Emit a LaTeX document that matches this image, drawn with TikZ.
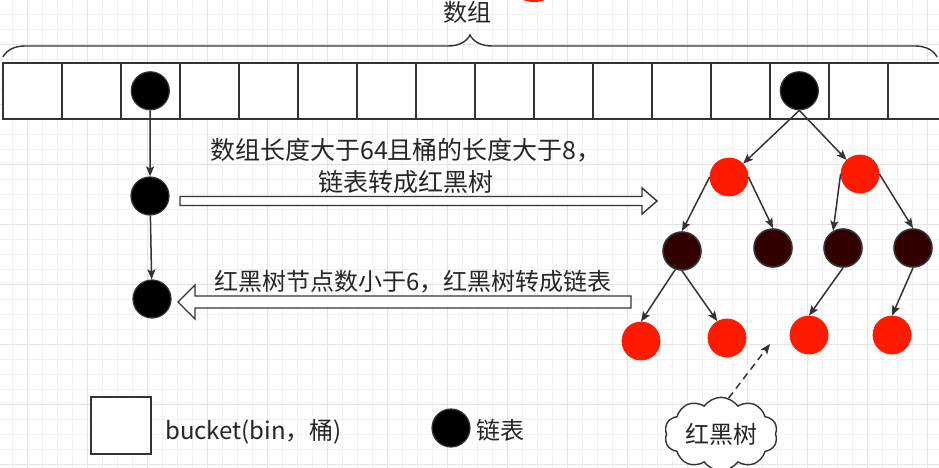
\documentclass[tikz,border=0pt]{standalone}
\usepackage{fontspec}
\setmainfont{Noto Sans CJK SC}
\usepackage{tikz}
\usetikzlibrary{arrows.meta,positioning,decorations.pathreplacing,shapes.symbols}
\definecolor{rbred}{RGB}{255,26,0}
\definecolor{rbdark}{RGB}{51,0,0}
\definecolor{edgegrey}{RGB}{51,51,51}
\definecolor{gridminor}{RGB}{241,241,241}
\definecolor{gridmajor}{RGB}{228,228,228}
\tikzset{
  map-cell/.style={draw=edgegrey, fill=white, line width=1.6pt, minimum width=59pt, minimum height=56pt, inner sep=0pt},
  list-node/.style={circle, draw=edgegrey, fill=black, line width=1.2pt, minimum size=38pt, inner sep=0pt},
  red-node/.style={circle, draw=rbred, fill=rbred, line width=0.8pt, minimum size=38pt, inner sep=0pt},
  black-node/.style={circle, draw=edgegrey, fill=rbdark, line width=1.6pt, minimum size=38pt, inner sep=0pt},
  tree-edge/.style={draw=edgegrey, line width=1.5pt, -{Stealth[length=10pt, width=8pt, inset=2pt]}},
  fat-arrow/.style={draw=edgegrey, fill=white, line width=1.4pt, line join=miter},
  note-text/.style={font=\fontsize{24pt}{32pt}\selectfont, text=black!85, inner sep=0pt, align=center}
}

\begin{document}
\begin{tikzpicture}[x=1pt, y=-1pt]
  \useasboundingbox (0,0) rectangle (939,468);
  \clip (0,0) rectangle (939,468);
  \fill[white] (0,0) rectangle (939,468);
  % background grid
  \foreach \gx in {12,27,...,939} \draw[gridminor, line width=0.8pt] (\gx,0) -- (\gx,468);
  \foreach \gy in {14,29,...,468} \draw[gridminor, line width=0.8pt] (0,\gy) -- (939,\gy);
  \foreach \gx in {27,87,...,939} \draw[gridmajor, line width=0.8pt] (\gx,0) -- (\gx,468);
  \foreach \gy in {44,104,...,468} \draw[gridmajor, line width=0.8pt] (0,\gy) -- (939,\gy);
  \fill[rbred] (534,-7) ellipse [x radius=17, y radius=9];

  % the array of buckets
  \foreach \i in {0,...,15} {
    \node[map-cell, anchor=north west] (cell\i) at ({2+59*\i},62) {};
  }
  \draw[decorate, decoration={brace, amplitude=22pt}, edgegrey, line width=1.4pt] (3,57) -- (937,57);
  \node[note-text] (arrLabel) at (467,12) {数组};
  \node[list-node] (arrA) at (cell2) {};
  \node[list-node] (arrB) at (cell13) {};

  % linked list
  \node[list-node] (ch1) at (150,196) {};
  \node[list-node] (ch2) at (152,299) {};
  \draw[tree-edge] (arrA) -- (ch1);
  \draw[tree-edge] (ch1) -- (ch2);

  % conversions
  \draw[fat-arrow] (180,196.5) -- (642,196.5) -- (642,188) -- (657,201) -- (642,214) -- (642,205.5) -- (180,205.5) -- cycle;
  \draw[fat-arrow] (631,296) -- (195,296) -- (195,285) -- (178,302) -- (195,319) -- (195,308) -- (631,308) -- cycle;
  \node[note-text, font=\fontsize{25pt}{32pt}\selectfont] (toTreeText) at (406,166) {数组长度大于64且桶的长度大于8，\\链表转成红黑树};
  \node[note-text] (toListText) at (413,282) {红黑树节点数小于6，红黑树转成链表};

  % red-black tree
  \foreach \name/\x/\y in {r1/729/177, r2/860/174, l1/641/341, l2/727/338, l3/809/335, l4/892/335} {
    \node[red-node] (\name) at (\x,\y) {};
  }
  \foreach \name/\x/\y in {b1/682/251, b2/773/248, b3/843/248, b4/913/248} {
    \node[black-node] (\name) at (\x,\y) {};
  }
  \draw[tree-edge] (arrB.south) -- (r1);
  \draw[tree-edge] (arrB.south) -- (r2);
  \draw[tree-edge] (r1.west) -- (b1.north);
  \draw[tree-edge] (r1.east) -- (b2.north);
  \draw[tree-edge] (r2.west) -- (b3.120);
  \draw[tree-edge] (r2.east) -- (b4.north);
  \draw[tree-edge] (b1.250) -- (l1.north);
  \draw[tree-edge] (b1.south) -- (l2.120);
  \draw[tree-edge] (b3.south) -- (l3.north);
  \draw[tree-edge] (b4.south) -- (l4.north);

  % cloud note
  \node[cloud, draw=edgegrey, fill=white, line width=1.4pt, cloud puffs=10, cloud puff arc=110, aspect=1.7,
    minimum width=113pt, minimum height=66pt, inner sep=0pt, note-text] (rbCloud) at (721,434) {红黑树};
  \coordinate (rbTip) at (770,344);
  \draw[tree-edge, dash pattern=on 7pt off 5pt] (rbCloud.78) -- (rbTip);

  % legend
  \node[draw=edgegrey, fill=white, line width=1.8pt, minimum width=60pt, minimum height=57pt, inner sep=0pt] (bucketKey) at (121,425.5) {};
  \node[note-text, anchor=west] (bucketText) at (165,432) {bucket(bin，桶)};
  \node[list-node] (listKey) at (451,428) {};
  \node[note-text, anchor=west] (listText) at (476,430) {链表};
\end{tikzpicture}
\end{document}
